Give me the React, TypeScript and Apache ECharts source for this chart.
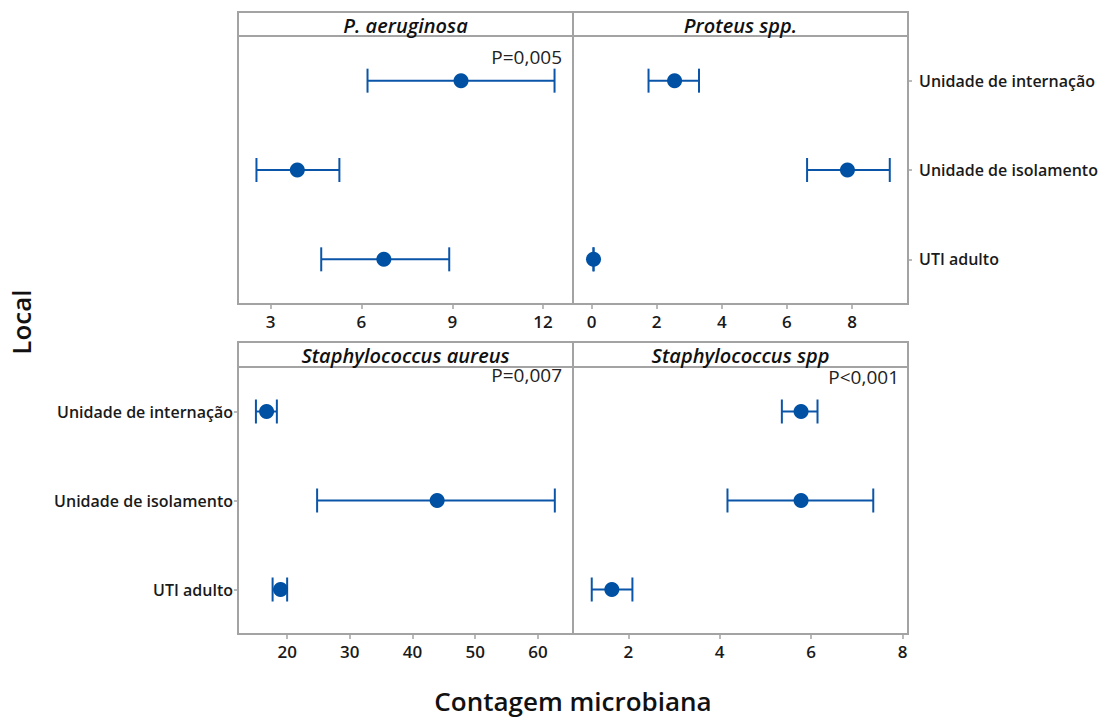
import React, { useEffect, useRef } from "react";
import * as echarts from "echarts";

const categories = ["Unidade de internação", "Unidade de isolamento", "UTI adulto"];

const panelTitles = ["P. aeruginosa", "Proteus spp.", "Staphylococcus aureus", "Staphylococcus spp"];
const pValues = ["P=0,005", "", "P=0,007", "P<0,001"];

const paeruginosaMean = [9.29, 3.88, 6.74];
const paeruginosaLow = [6.2, 2.53, 4.67];
const paeruginosaHigh = [12.38, 5.27, 8.9];

const proteusMean = [2.55, 7.86, 0.06];
const proteusLow = [1.75, 6.62, 0.06];
const proteusHigh = [3.3, 9.16, 0.06];

const saureusMean = [16.72, 43.93, 18.95];
const saureusLow = [15.02, 24.78, 17.68];
const saureusHigh = [18.36, 62.7, 20.0];

const sppMean = [5.78, 5.78, 1.64];
const sppLow = [5.36, 4.17, 1.2];
const sppHigh = [6.14, 7.36, 2.09];

const xTicksTL = [3, 6, 9, 12];
const xTicksTR = [0, 2, 4, 6, 8];
const xTicksBL = [20, 30, 40, 50, 60];
const xTicksBR = [2, 4, 6, 8];

const FONT = "Open Sans";
const BLUE = "#0a55a8";
const GRAY = "#a3a3a3";

export default function App() {
  const ref = useRef<HTMLDivElement>(null);
  useEffect(() => {
    document.body.style.margin = "0";
    const chart = echarts.init(ref.current!, null, { renderer: "svg" });

    const panels = [
      { left: 238, top: 36, w: 335, h: 268, min: 1.92, max: 12.99, ticks: xTicksTL, mean: paeruginosaMean, lo: paeruginosaLow, hi: paeruginosaHigh, yPos: "none" },
      { left: 573, top: 36, w: 335, h: 268, min: -0.57, max: 9.72, ticks: xTicksTR, mean: proteusMean, lo: proteusLow, hi: proteusHigh, yPos: "right" },
      { left: 238, top: 367, w: 335, h: 267, min: 12.16, max: 65.6, ticks: xTicksBL, mean: saureusMean, lo: saureusLow, hi: saureusHigh, yPos: "left" },
      { left: 573, top: 367, w: 335, h: 267, min: 0.79, max: 8.12, ticks: xTicksBR, mean: sppMean, lo: sppLow, hi: sppHigh, yPos: "none" },
    ];

    const grid = panels.map((p) => ({
      left: p.left,
      top: p.top,
      width: p.w,
      height: p.h,
      show: true,
      borderColor: GRAY,
      borderWidth: 2,
      backgroundColor: "#fff",
    }));

    const xAxis = panels.map((p, i) => ({
      type: "value",
      gridIndex: i,
      min: p.min,
      max: p.max,
      splitLine: { show: false },
      axisLine: { show: false, onZero: false },
      axisTick: { show: true, customValues: p.ticks, length: 5, lineStyle: { color: GRAY, width: 1.5 } },
      axisLabel: {
        customValues: p.ticks,
        color: "#1a1a1a",
        fontFamily: FONT,
        fontWeight: 600,
        fontSize: 17,
        margin: 9,
      },
    }));

    const yAxis = panels.map((p, i) => ({
      type: "category",
      gridIndex: i,
      data: categories,
      inverse: true,
      position: p.yPos === "right" ? "right" : "left",
      axisLine: { show: false, onZero: false },
      splitLine: { show: false },
      axisTick: {
        show: p.yPos !== "none",
        alignWithLabel: true,
        length: 4,
        lineStyle: { color: GRAY, width: 1.5 },
      },
      axisLabel: {
        show: p.yPos !== "none",
        color: "#1a1a1a",
        fontFamily: FONT,
        fontWeight: 600,
        fontSize: 16,
        margin: p.yPos === "right" ? 11 : 5,
      },
    }));

    const series: any[] = [];
    panels.forEach((p, i) => {
      series.push({
        type: "custom",
        xAxisIndex: i,
        yAxisIndex: i,
        clip: false,
        encode: { x: [0, 1], y: 2 },
        data: categories.map((_, k) => [p.lo[k], p.hi[k], k]),
        renderItem: (params: any, api: any) => {
          const a = api.coord([api.value(0), api.value(2)]);
          const b = api.coord([api.value(1), api.value(2)]);
          const cap = 12;
          const style = { stroke: BLUE, lineWidth: 2 };
          return {
            type: "group",
            children: [
              { type: "line", shape: { x1: a[0], y1: a[1], x2: b[0], y2: b[1] }, style },
              { type: "line", shape: { x1: a[0], y1: a[1] - cap, x2: a[0], y2: a[1] + cap }, style },
              { type: "line", shape: { x1: b[0], y1: b[1] - cap, x2: b[0], y2: b[1] + cap }, style },
            ],
          };
        },
        z: 2,
      });
      series.push({
        type: "scatter",
        xAxisIndex: i,
        yAxisIndex: i,
        symbol: "circle",
        symbolSize: 15,
        itemStyle: { color: "#0050a4", opacity: 1 },
        data: categories.map((_, k) => [p.mean[k], k]),
        z: 3,
      });
    });

    const strips = [
      { x: 238, y: 12, w: 335, h: 24 },
      { x: 573, y: 12, w: 335, h: 24 },
      { x: 238, y: 342, w: 335, h: 25 },
      { x: 573, y: 342, w: 335, h: 25 },
    ];

    const graphic: any[] = [];
    strips.forEach((s, i) => {
      graphic.push({
        type: "rect",
        shape: { x: s.x, y: s.y, width: s.w, height: s.h },
        style: { fill: "#fff", stroke: GRAY, lineWidth: 2 },
        z: 10,
      });
      graphic.push({
        type: "text",
        x: s.x + s.w / 2,
        y: s.y + s.h / 2 + 1,
        style: {
          text: panelTitles[i],
          fontFamily: FONT,
          fontStyle: "italic",
          fontWeight: 600,
          fontSize: 20,
          fill: "#111",
          align: "center",
          verticalAlign: "middle",
        },
        z: 11,
      });
    });

    const pPos = [
      { x: 562, y: 57 },
      null,
      { x: 562, y: 375 },
      { x: 899, y: 377 },
    ];
    pPos.forEach((pp, i) => {
      if (!pp || !pValues[i]) return;
      graphic.push({
        type: "text",
        x: pp.x,
        y: pp.y,
        style: {
          text: pValues[i],
          fontFamily: FONT,
          fontSize: 19,
          fill: "#222",
          align: "right",
          verticalAlign: "middle",
        },
        z: 11,
      });
    });

    graphic.push({
      type: "text",
      x: 21,
      y: 322,
      rotation: Math.PI / 2,
      style: {
        text: "Local",
        fontFamily: FONT,
        fontWeight: 600,
        fontSize: 26,
        fill: "#111",
        align: "center",
        verticalAlign: "middle",
      },
    });
    graphic.push({
      type: "text",
      x: 573,
      y: 701,
      style: {
        text: "Contagem microbiana",
        fontFamily: FONT,
        fontWeight: 600,
        fontSize: 26,
        fill: "#111",
        align: "center",
        verticalAlign: "middle",
      },
    });

    chart.setOption({
      animation: false,
      backgroundColor: "#fff",
      grid,
      xAxis,
      yAxis,
      series,
      graphic,
    });
    return () => chart.dispose();
  }, []);
  return <div ref={ref} style={{ width: 1107, height: 719 }} />;
}
